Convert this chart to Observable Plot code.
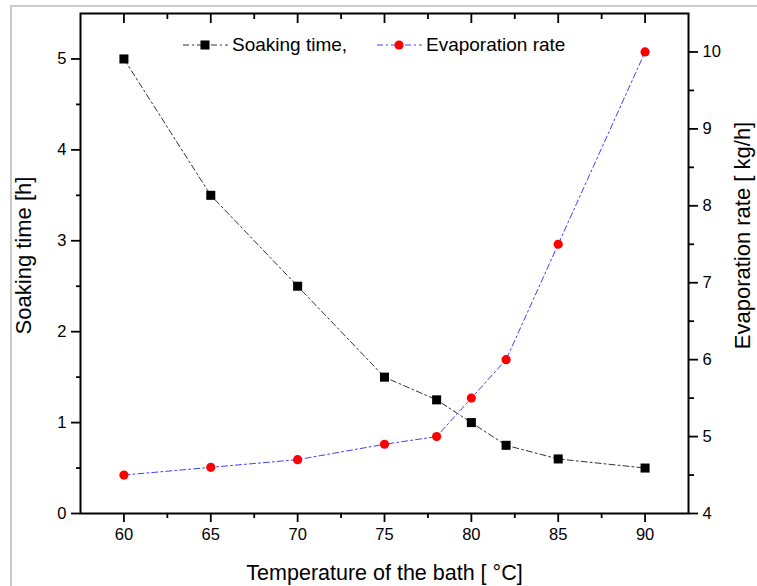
<!DOCTYPE html>
<html>
<head>
<meta charset="utf-8">
<script src="https://cdn.jsdelivr.net/npm/d3@7"></script>
<script src="https://cdn.jsdelivr.net/npm/@observablehq/plot@0.6"></script>
<style>
  html, body { margin: 0; padding: 0; background: #fff; }
  #chart {
    position: relative; width: 757px; height: 586px; overflow: hidden;
    font-family: "Liberation Sans", Arial, sans-serif; color: #000;
  }
  #border {
    position: absolute; left: 10px; top: 5px; width: 900px; height: 900px;
    border-left: 2px solid #cacaca; border-top: 2px solid #cacaca;
  }
  #chart svg.layer { position: absolute; left: 0; top: 0; }
  .legend-item { position: absolute; top: 33px; height: 24px; display: flex; align-items: center; font-size: 19px; white-space: nowrap; }
  .legend-item svg { margin-right: 4px; }
</style>
</head>
<body>
<div id="chart"><div id="border"></div></div>
<script>
// Bath temperature (°C) and the two measured responses
const temperature     = [60, 65, 70, 75, 78, 80, 82, 85, 90];
const soakingTime     = [5.0, 3.5, 2.5, 1.5, 1.25, 1.0, 0.75, 0.6, 0.5];   // h
const evaporationRate = [4.5, 4.6, 4.7, 4.9, 5.0, 5.5, 6.0, 7.5, 10.0];    // kg/h

const xTicks    = [60, 65, 70, 75, 80, 85, 90];
const soakTicks = [0, 1, 2, 3, 4, 5];
const evapTicks = [4, 5, 6, 7, 8, 9, 10];

const xTitle        = "Temperature of the bath [ \u00B0C]";
const soakTitle     = "Soaking time [h]";
const evapTitle     = "Evaporation rate [ kg/h]";
const legendLabels  = ["Soaking time,", "Evaporation rate"];

const rows = temperature.map((t, i) => ({t, soak: soakingTime[i], evap: evaporationRate[i]}));
const mids = ticks => ticks.slice(1).map((v, i) => (v + ticks[i]) / 2);
const plain = d => String(d);

const soakStyle = {stroke: "#333", dash: "6,3,2,3", fill: "#000", symbol: "square", r: 5.1};
const evapStyle = {stroke: "#4040ff", dash: "6,3,2,3", fill: "#ff0000", symbol: "circle", r: 4.6};

const common = {
  width: 757, height: 586,
  marginTop: 13, marginRight: 69, marginBottom: 73, marginLeft: 80,
  x: {domain: [57.5, 92.5], axis: null},
  style: {fontFamily: "'Liberation Sans', Arial, sans-serif", fontSize: "16.5px", color: "#000", background: "transparent", overflow: "visible"}
};
const tickW = 1.8;

// Left scale: soaking time, with the frame and the temperature axis
const left = Plot.plot({
  ...common,
  y: {domain: [0, 5.5], axis: null},
  marks: [
    Plot.axisX({anchor: "bottom", ticks: xTicks, tickFormat: plain, tickSize: 9, tickPadding: 6, strokeWidth: tickW, label: null}),
    Plot.axisX({anchor: "bottom", ticks: mids(xTicks), tickSize: 5, text: null, strokeWidth: tickW, label: null}),
    Plot.axisX({anchor: "top", ticks: xTicks, tickSize: 9, dy: 9, text: null, strokeWidth: tickW, label: null}),
    Plot.axisX({anchor: "top", ticks: mids(xTicks), tickSize: 5, dy: 5, text: null, strokeWidth: tickW, label: null}),
    Plot.axisY({anchor: "left", ticks: soakTicks, tickFormat: plain, tickSize: 9, tickPadding: 5, strokeWidth: tickW, label: null}),
    Plot.axisY({anchor: "left", ticks: mids(soakTicks), tickSize: 4, text: null, strokeWidth: tickW, label: null}),
    Plot.frame({stroke: "#000", strokeWidth: 2}),
    Plot.line(rows, {x: "t", y: "soak", stroke: soakStyle.stroke, strokeWidth: 1, strokeDasharray: soakStyle.dash}),
    Plot.dot(rows, {x: "t", y: "soak", symbol: soakStyle.symbol, r: soakStyle.r, fill: soakStyle.fill, stroke: null}),
    Plot.text([soakTitle], {text: d => d, frameAnchor: "left", textAnchor: "middle", rotate: -90, dx: -65, dy: -8, lineAnchor: "top", fontSize: 22}),
    Plot.text([xTitle], {text: d => d, frameAnchor: "bottom", dy: 60, lineAnchor: "middle", fontSize: 21.5})
  ]
});

// Right scale: evaporation rate
const right = Plot.plot({
  ...common,
  y: {domain: [4, 10.5], axis: null},
  marks: [
    Plot.axisY({anchor: "right", ticks: evapTicks, tickFormat: plain, tickSize: 9, tickPadding: 5, strokeWidth: tickW, label: null}),
    Plot.axisY({anchor: "right", ticks: mids(evapTicks), tickSize: 5, text: null, strokeWidth: tickW, label: null}),
    Plot.line(rows, {x: "t", y: "evap", stroke: evapStyle.stroke, strokeWidth: 1, strokeDasharray: evapStyle.dash}),
    Plot.dot(rows, {x: "t", y: "evap", symbol: evapStyle.symbol, r: evapStyle.r, fill: evapStyle.fill, stroke: null}),
    Plot.text([evapTitle], {text: d => d, frameAnchor: "right", textAnchor: "middle", rotate: -90, dx: 46, dy: -28, lineAnchor: "top", fontSize: 22})
  ]
});

const chart = document.getElementById("chart");
for (const svg of [left, right]) { svg.classList.add("layer"); chart.appendChild(svg); }

// Legend entries: dashed sample line with the series marker, then the label
const legendLeft = [183, 377];
[soakStyle, evapStyle].forEach((s, i) => {
  const item = d3.select(chart).append("div").attr("class", "legend-item").style("left", legendLeft[i] + "px");
  const sw = item.append("svg").attr("width", 45).attr("height", 24);
  sw.append("line").attr("x1", 0).attr("x2", 45).attr("y1", 12).attr("y2", 12)
    .attr("stroke", s.stroke).attr("stroke-width", 1).attr("stroke-dasharray", s.dash);
  sw.append("path").attr("transform", "translate(22,12)").attr("fill", s.fill)
    .attr("d", d3.symbol(s.symbol === "square" ? d3.symbolSquare : d3.symbolCircle, s.r * s.r * Math.PI)());
  item.append("span").text(legendLabels[i]);
});
</script>
</body>
</html>
